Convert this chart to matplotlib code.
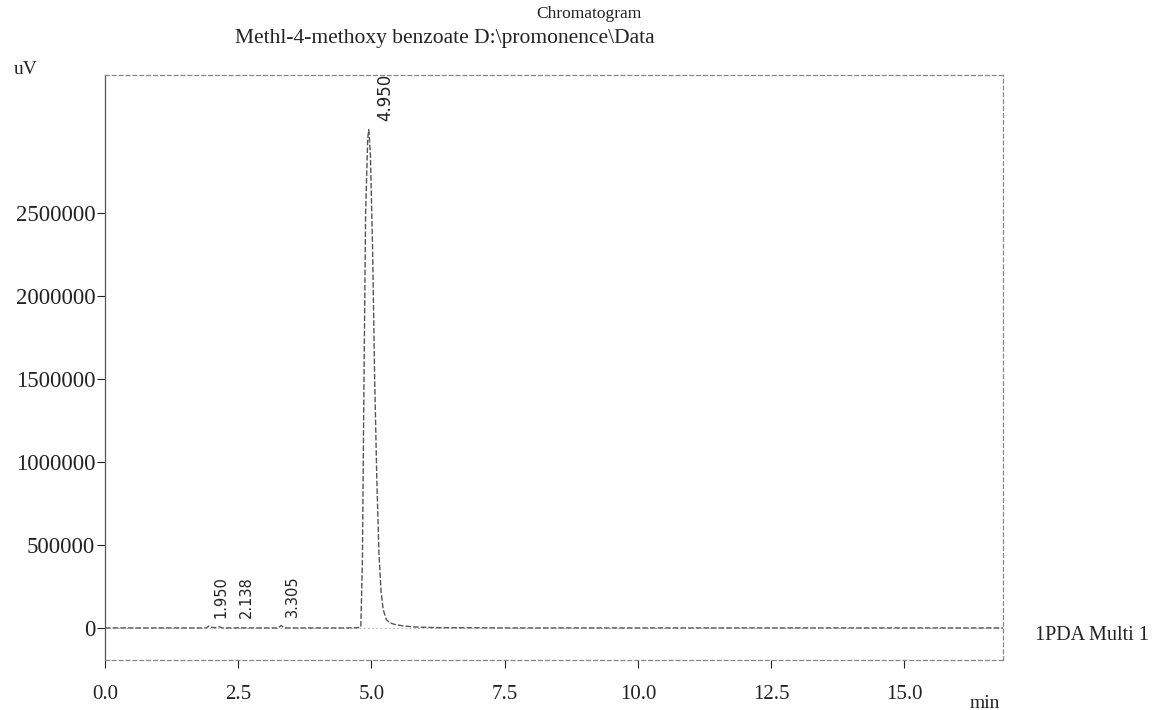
import matplotlib
matplotlib.use("Agg")
import matplotlib.pyplot as plt

plt.rcParams['font.family'] = ['Liberation Serif', 'DejaVu Serif']

# ---- data ----
time_min = [0.0, 0.5, 1.0, 1.5, 1.90, 1.95, 2.00, 2.08, 2.138, 2.20, 2.5, 3.0, 3.25,
            3.305, 3.36, 3.6, 4.0, 4.5, 4.72, 4.80, 4.83, 4.86, 4.89, 4.93, 4.95,
            4.98, 5.02, 5.06, 5.10, 5.14, 5.18, 5.22, 5.28, 5.35, 5.45, 5.60, 5.80,
            6.2, 7.0, 7.5, 8.0, 9.0, 10.0, 11.0, 12.0, 13.0, 14.0, 15.0, 16.0, 16.85]
signal_uv = [0, 0, 0, 0, 0, 12000, 3000, 2000, 8000, 0, 0, 0, 0,
             15000, 0, 0, 0, 0, 1000, 5000, 400000, 1500000, 2500000, 2950000, 3000000,
             2850000, 2300000, 1500000, 900000, 450000, 220000, 110000, 50000, 30000, 20000, 12000, 6000,
             2000, 1000, 0, 0, 0, 0, 0, 0, 0, 0, 0, 0, 0]

peak_rt = [1.950, 2.138, 3.305, 4.950]
peak_labels = ["1.950", "2.138", "3.305", "4.950"]
peak_height = [12000, 8000, 15000, 3000000]
label_dx_pt = [9, 20, 8, 12]

x_ticks = [0.0, 2.5, 5.0, 7.5, 10.0, 12.5, 15.0]
y_ticks = [0, 500000, 1000000, 1500000, 2000000, 2500000]

# ---- figure ----
fig = plt.figure(figsize=(11.57, 7.10), dpi=100)
ax = fig.add_axes([105/1157, 1-660/710, (1003-105)/1157, (660-75)/710])

line_col = '#555555'
ax.plot(time_min, signal_uv, color=line_col, lw=1.0, linestyle=(0, (4, 1.5)))

ax.set_xlim(0, 16.85)
ax.set_ylim(-193000, 3330000)

ax.set_xticks(x_ticks)
ax.set_xticklabels([f"{v:.1f}" for v in x_ticks])
ax.set_yticks(y_ticks)
ax.set_yticklabels([str(v) for v in y_ticks])
ax.tick_params(axis='both', colors='#222222', direction='out', length=6, width=0.8)
ax.tick_params(axis='x', labelsize=15, pad=12)
ax.tick_params(axis='y', labelsize=16.5, pad=1)

for side in ['top', 'right', 'bottom']:
    ax.spines[side].set_color('#888888')
    ax.spines[side].set_linewidth(0.9)
    ax.spines[side].set_linestyle((0, (3, 2.5)))
ax.spines['left'].set_color('#555555')
ax.spines['left'].set_linewidth(0.9)

# baseline at zero drawn faintly
ax.axhline(0, color='#aaaaaa', lw=0.6, linestyle=(0, (2, 3)), zorder=0)

for rt, lab, h, dx in zip(peak_rt, peak_labels, peak_height, label_dx_pt):
    ax.annotate(lab, xy=(rt, h), xytext=(dx, 6),
                textcoords='offset points', rotation=90, fontsize=10.5 if h < 100000 else 12,
                ha='center', va='bottom', color='#222222',
                fontfamily=['DejaVu Sans'])

fig.text(589/1157, 1-14/710, "Chromatogram", ha='center', va='center', fontsize=12.5, color='#222222')
fig.text(445/1157, 1-38/710, "Methl-4-methoxy benzoate D:\\promonence\\Data", ha='center', va='center',
         fontsize=15.5, color='#222222')
fig.text(14/1157, 1-70/710, "uV", ha='left', va='center', fontsize=14, color='#222222')
fig.text(1035/1157, 1-636/710, "1PDA Multi 1", ha='left', va='center', fontsize=14.5, color='#222222')
fig.text(970/1157, 1-703/710, "min", ha='left', va='center', fontsize=14, color='#222222')

fig.savefig("out.png", dpi=100)
